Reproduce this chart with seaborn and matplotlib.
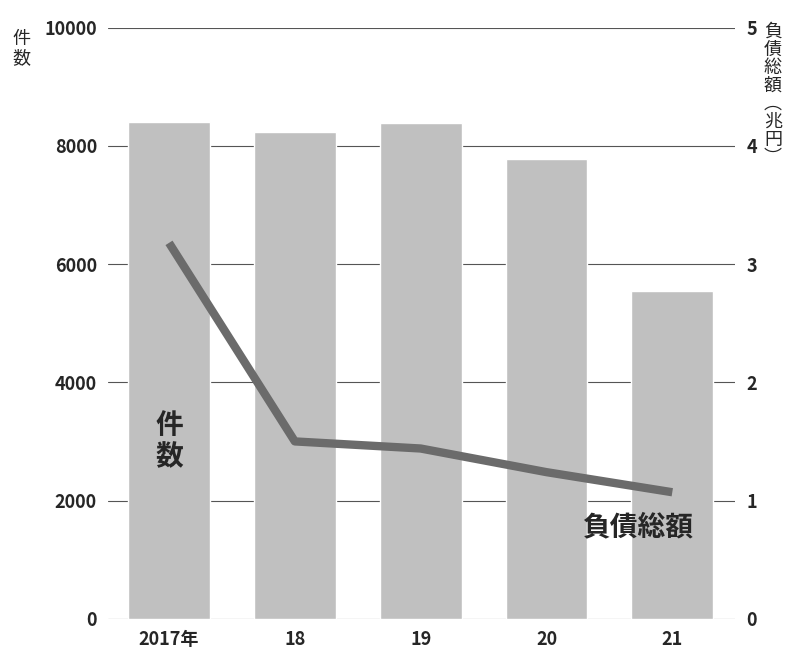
import matplotlib
matplotlib.use("Agg")
import matplotlib.pyplot as plt
import seaborn as sns
import pandas as pd

# 倒産件数と負債総額
years = ["2017年", "18", "19", "20", "21"]
counts = [8405, 8235, 8383, 7780, 5550]
debt = [3.18, 1.50, 1.44, 1.24, 1.07]

sns.set_theme(style="white")
plt.rcParams["font.family"] = "Noto Sans CJK JP"

df = pd.DataFrame({"year": years, "count": counts, "debt": debt})

fig = plt.figure(figsize=(8, 6.61), dpi=100)
ax = fig.add_axes([0.135, 0.064, 0.784, 0.894])
sns.barplot(data=df, x="year", y="count", color="#c0c0c0", saturation=1,
            width=0.65, ax=ax, zorder=2)
ax.set_xlim(-0.485, 4.5)
ax.set_ylim(0, 10000)
ax.set_yticks(range(0, 10001, 2000))
ax.yaxis.grid(True, color="#555555", linewidth=0.8, zorder=0)
ax.set_axisbelow(True)
ax.set_xlabel("")
ax.set_ylabel("")
for s in ax.spines.values():
    s.set_visible(False)
ax.tick_params(axis="both", length=0, labelsize=13, pad=8)
for t in ax.get_xticklabels() + ax.get_yticklabels():
    t.set_fontweight("bold")

ax2 = ax.twinx()
sns.lineplot(x=range(len(years)), y=debt, ax=ax2, color="#6b6b6b",
             linewidth=6, solid_capstyle="butt")
ax2.set_xlim(-0.485, 4.5)
ax2.set_ylim(0, 5)
ax2.set_yticks(range(0, 6))
for s in ax2.spines.values():
    s.set_visible(False)
ax2.tick_params(axis="y", length=0, labelsize=13, pad=8)
for t in ax2.get_yticklabels():
    t.set_fontweight("bold")

fig.text(0.015, 0.955, "件\n数", fontsize=13, va="top", linespacing=1.1)
fig.text(0.955, 0.965, "負\n債\n総\n額\n︵\n兆\n円\n︶", fontsize=13,
         va="top", linespacing=1.0)
ax.text(0, 3000, "件\n数", fontsize=20, fontweight="bold", ha="center",
        va="center", linespacing=1.15)
ax2.text(3.72, 0.77, "負債総額", fontsize=20, fontweight="bold",
         ha="center", va="center")

fig.savefig("out.png", dpi=100)
